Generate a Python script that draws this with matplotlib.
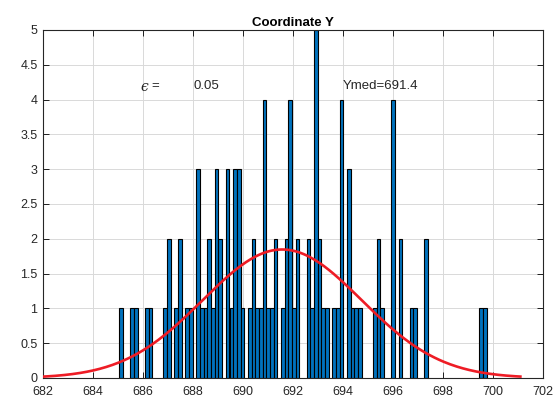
import numpy as np
import matplotlib.pyplot as plt

plt.rcParams["font.family"] = ["Liberation Sans", "DejaVu Sans"]

# histogram of the Y coordinate: 100 bins between min and max
y_min = 685.05
y_max = 699.75
counts = [
    1, 0, 0, 1, 1, 0, 0, 1, 1, 0,
    0, 0, 1, 2, 0, 1, 2, 0, 1, 1,
    0, 3, 1, 1, 2, 1, 3, 2, 0, 3,
    1, 3, 3, 1, 0, 1, 2, 1, 1, 4,
    1, 1, 2, 0, 1, 2, 4, 1, 2, 0,
    0, 2, 1, 5, 2, 1, 1, 0, 1, 1,
    4, 0, 3, 1, 1, 1, 0, 0, 0, 1,
    2, 1, 0, 0, 4, 0, 2, 0, 0, 1,
    1, 0, 0, 2, 0, 0, 0, 0, 0, 0,
    0, 0, 0, 0, 0, 0, 0, 0, 1, 1,
]
eps_label = "0.05"
ymed_label = "Ymed=691.4"
x_ticks = np.arange(682, 703, 2)
y_ticks = np.arange(0, 5.01, 0.5)

counts = np.array(counts)
edges = np.linspace(y_min, y_max, len(counts) + 1)
centers = 0.5 * (edges[:-1] + edges[1:])
w = edges[1] - edges[0]

# normal fit scaled to the histogram, drawn over mu +/- 3 sigma
n = counts.sum()
mu = np.average(centers, weights=counts)
sigma = np.sqrt(np.average((centers - mu) ** 2, weights=counts))
xs = np.linspace(mu - 3 * sigma, mu + 3 * sigma, 300)
pdf = n * w / (sigma * np.sqrt(2 * np.pi)) * np.exp(-0.5 * ((xs - mu) / sigma) ** 2)

fig = plt.figure(figsize=(5.6, 3.98), dpi=100)
ax = fig.add_axes([43 / 560, 20 / 398, 500 / 560, 348 / 398])

nz = counts > 0
ax.bar(centers[nz], counts[nz], width=w, color="#0072BD", edgecolor="black",
       linewidth=0.8, zorder=2)
ax.plot(xs, pdf, color="#ee1c25", lw=1.9, zorder=3)

ax.text(685.9, 4.18, "ϵ", fontsize=10, style="italic", va="center", color="#262626",
        family=["DejaVu Serif"])
ax.text(686.35, 4.2, "=", fontsize=9.5, va="center", color="#262626")
ax.text(688.0, 4.2, eps_label, fontsize=9.5, va="center", color="#262626")
ax.text(694.0, 4.2, ymed_label, fontsize=9.5, va="center", color="#262626")

ax.set_xlim(682, 702)
ax.set_ylim(0, 5)
ax.set_xticks(x_ticks)
ax.set_yticks(y_ticks)
ax.set_yticklabels(["0", "0.5", "1", "1.5", "2", "2.5", "3", "3.5", "4", "4.5", "5"])
ax.tick_params(direction="in", top=True, right=True, length=4, width=0.6,
               labelsize=9, labelcolor="#262626")
ax.tick_params(axis="x", pad=5.5)
ax.tick_params(axis="y", pad=4)
ax.grid(True, color="#d9d9d9", lw=0.7)
ax.set_axisbelow(True)
for s in ax.spines.values():
    s.set_linewidth(0.8)
    s.set_color("#262626")
ax.set_title("Coordinate Y", fontsize=9.5, fontweight="bold", pad=3)

fig.savefig("out.png", dpi=100)
